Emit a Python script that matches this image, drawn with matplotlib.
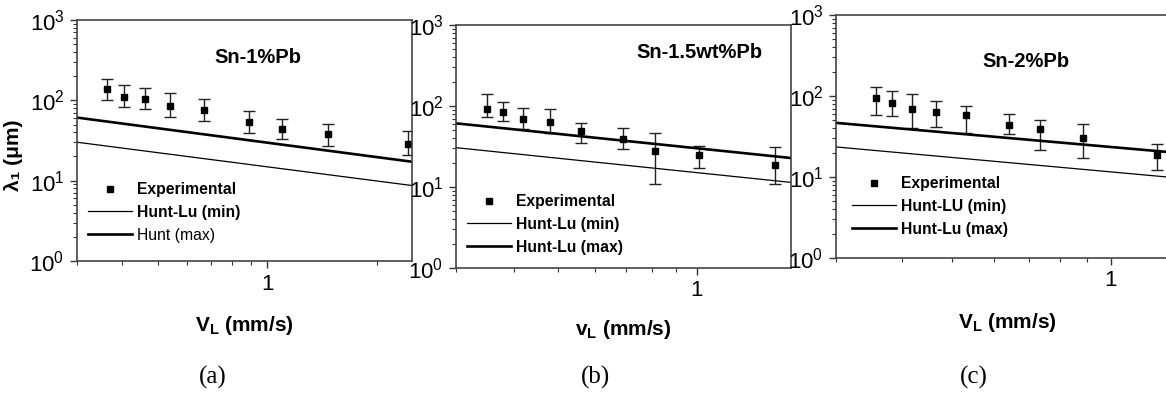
import numpy as np
import matplotlib
matplotlib.use("Agg")
import matplotlib.pyplot as plt
from matplotlib import ticker

plt.rcParams['font.family'] = ['Liberation Sans', 'DejaVu Sans']
plt.rcParams['mathtext.fontset'] = 'custom'
plt.rcParams['mathtext.rm'] = 'Liberation Sans'
plt.rcParams['mathtext.bf'] = 'Liberation Sans:bold'
plt.rcParams['mathtext.it'] = 'Liberation Sans:italic'

# Panel (a) Sn-1%Pb
va = [0.362, 0.404, 0.461, 0.542, 0.669, 0.892, 1.10, 1.47, 2.44]
la = [137, 111, 105, 86, 75, 53, 44.5, 37.8, 28.9]
la_hi = [185, 156, 143, 124, 103, 74, 58, 51, 41.6]
la_lo = [101, 82, 77, 62, 56, 39, 33, 27, 20.7]
va_fit = [0.3, 2.5]
a_min = [30.1, 8.7]
a_max = [61, 17.2]

# Panel (b) Sn-1.5wt%Pb
vb = [0.35, 0.38, 0.42, 0.48, 0.56, 0.691, 0.811, 1.01, 1.475]
lb = [91.8, 83.6, 69.2, 63, 49.6, 39.1, 27.8, 25, 18.9]
lb_hi = [142, 111, 93.6, 91.8, 62.2, 54, 46, 32.4, 31]
lb_lo = [72.5, 64.7, 51.5, 46, 34.6, 29.7, 11, 17, 11]
vb_fit = [0.3, 1.6]
b_min = [30.6, 11.4]
b_max = [61.1, 22.8]

# Panel (c) Sn-2%Pb
vc = [0.357, 0.383, 0.418, 0.465, 0.530, 0.642, 0.733, 0.887, 1.227]
lc = [93.4, 81, 68.9, 62.7, 58.6, 43.6, 39, 30.4, 18.6]
lc_hi = [128, 114, 106, 87.3, 74.3, 60.3, 50.8, 45.3, 25.2]
lc_lo = [57.6, 56, 39.8, 41.3, 34.5, 33.5, 21.3, 17.4, 12.1]
vc_fit = [0.3, 1.35]
c_min = [23.5, 9.7]
c_max = [46.6, 19.8]

W, H = 1166, 396
fig = plt.figure(figsize=(W / 100, H / 100), dpi=100)


def add_axes(left, right, top, bottom):
    return fig.add_axes([left / W, 1 - bottom / H, (right - left) / W, (bottom - top) / H])


panels = [
    dict(box=(77, 412, 20, 261), v=va, l=la, hi=la_hi, lo=la_lo, vf=va_fit, mn=a_min, mx=a_max,
         xlim=(0.3, 2.5), title='Sn-1%Pb', tpos=(0.54, 0.846),
         labels=['Experimental', 'Hunt-Lu (min)', 'Hunt (max)'], bold=[True, True, False],
         leg=(88, 182), xlab=r'V$_\mathbf{L}$ (mm/s)', xlab_y=-0.22, tag='(a)', tag_x=213),
    dict(box=(456, 791, 25, 268), v=vb, l=lb, hi=lb_hi, lo=lb_lo, vf=vb_fit, mn=b_min, mx=b_max,
         xlim=(0.3, 1.6), title='Sn-1.5wt%Pb', tpos=(0.728, 0.885),
         labels=['Experimental', 'Hunt-Lu (min)', 'Hunt-Lu (max)'], bold=[True, True, True],
         leg=(467, 194), xlab=r'v$_\mathbf{L}$ (mm/s)', xlab_y=-0.206, tag='(b)', tag_x=595),
    dict(box=(836, 1179, 15, 258), v=vc, l=lc, hi=lc_hi, lo=lc_lo, vf=vc_fit, mn=c_min, mx=c_max,
         xlim=(0.3, 1.35), title='Sn-2%Pb', tpos=(0.554, 0.807),
         labels=['Experimental', 'Hunt-LU (min)', 'Hunt-Lu (max)'], bold=[True, True, True],
         leg=(852, 176), xlab=r'V$_\mathbf{L}$ (mm/s)', xlab_y=-0.218, tag='(c)', tag_x=974),
]

for i, p in enumerate(panels):
    ax = add_axes(*p['box'])
    ax.set_xscale('log')
    ax.set_yscale('log')
    ax.set_xlim(*p['xlim'])
    ax.set_ylim(1, 1000)

    v = np.array(p['v'])
    l = np.array(p['l'])
    yerr = [l - np.array(p['lo']), np.array(p['hi']) - l]
    ax.errorbar(v, l, yerr=yerr, fmt='none', ecolor='#222222', elinewidth=1,
                capsize=4, capthick=1)
    h1, = ax.plot(v, l, 's', color='black', markersize=5, label=p['labels'][0])
    h2, = ax.plot(p['vf'], p['mn'], '-', color='black', lw=0.9, label=p['labels'][1])
    h3, = ax.plot(p['vf'], p['mx'], '-', color='black', lw=1.9, label=p['labels'][2])

    leg = ax.legend(handles=[h1, h2, h3], loc='upper left', frameon=False,
                    bbox_to_anchor=(p['leg'][0] / W, 1 - p['leg'][1] / H),
                    bbox_transform=fig.transFigure, fontsize=11.3, borderpad=0,
                    borderaxespad=0, handlelength=2.8, handletextpad=0.35,
                    labelspacing=0.5, numpoints=1)
    for t, b in zip(leg.get_texts(), p['bold']):
        t.set_fontweight('bold' if b else 'normal')

    ax.text(p['tpos'][0], p['tpos'][1], p['title'], transform=ax.transAxes,
            ha='center', va='center', fontsize=14.5, fontweight='bold')

    ax.xaxis.set_major_locator(ticker.FixedLocator([1]))
    ax.xaxis.set_major_formatter(ticker.FormatStrFormatter('%g'))
    ax.xaxis.set_minor_locator(ticker.LogLocator(base=10, subs=np.arange(2, 10)))
    ax.xaxis.set_minor_formatter(ticker.NullFormatter())
    ax.yaxis.set_major_locator(ticker.LogLocator(base=10, numticks=10))
    ax.yaxis.set_minor_locator(ticker.LogLocator(base=10, subs=np.arange(2, 10), numticks=10))
    ax.yaxis.set_minor_formatter(ticker.NullFormatter())

    ax.tick_params(which='major', direction='out', length=5, width=1, labelsize=16,
                   color='#333333', pad=4)
    ax.tick_params(which='minor', direction='out', length=3, width=0.8, color='#333333')
    for s in ax.spines.values():
        s.set_color('#444444')
        s.set_linewidth(1.2)

    ax.set_xlabel(p['xlab'], fontsize=15, fontweight='bold')
    ax.xaxis.set_label_coords(0.5, p['xlab_y'])
    if i == 0:
        ax.set_ylabel('λ₁ (μm)', fontsize=15, fontweight='bold')
        ax.yaxis.set_label_coords(-0.161, 0.44)

    fig.text(p['tag_x'] / W, 1 - 377 / H, p['tag'], ha='center', va='center',
             fontsize=18, family='Liberation Serif')

fig.savefig('out.png', dpi=100)
